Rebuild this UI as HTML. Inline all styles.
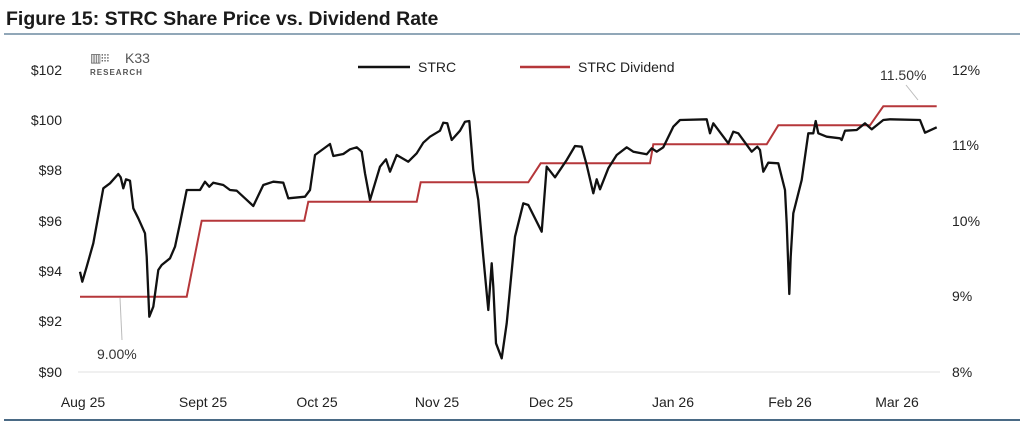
<!DOCTYPE html>
<html><head><meta charset="utf-8"><style>
body{margin:0;background:#fff;width:1024px;height:426px;overflow:hidden;font-family:"Liberation Sans",sans-serif}
</style></head><body>
<svg width="1024" height="426" xmlns="http://www.w3.org/2000/svg" font-family="Liberation Sans, sans-serif">
<text x="6" y="25" font-size="19.5" font-weight="bold" fill="#1a1a1a">Figure 15: STRC Share Price vs. Dividend Rate</text>
<line x1="4" y1="34" x2="1020" y2="34" stroke="#6d8aa0" stroke-width="1.5"/>
<line x1="4" y1="420" x2="1020" y2="420" stroke="#4a6a85" stroke-width="2"/>
<g font-size="14" fill="#222" text-anchor="end">
<text x="62" y="75">$102</text><text x="62" y="125">$100</text><text x="62" y="175">$98</text>
<text x="62" y="226">$96</text><text x="62" y="276">$94</text><text x="62" y="326">$92</text><text x="62" y="377">$90</text>
</g>
<g font-size="14" fill="#222">
<text x="952" y="75">12%</text><text x="952" y="150">11%</text><text x="952" y="226">10%</text>
<text x="952" y="301">9%</text><text x="952" y="377">8%</text>
</g>
<line x1="78" y1="372" x2="940" y2="372" stroke="#e2e2e2" stroke-width="1"/>
<g font-size="14" fill="#222" text-anchor="middle">
<text x="83" y="407">Aug 25</text><text x="203" y="407">Sept 25</text><text x="317" y="407">Oct 25</text>
<text x="437" y="407">Nov 25</text><text x="551" y="407">Dec 25</text><text x="673" y="407">Jan 26</text>
<text x="790" y="407">Feb 26</text><text x="897" y="407">Mar 26</text>
</g>
<text x="90" y="62" font-size="12" fill="#555" letter-spacing="-1">▥⁝⁝⁝</text>
<text x="125" y="63" font-size="14" fill="#555">K33</text>
<text x="90" y="75" font-size="8" font-weight="bold" fill="#555" letter-spacing="1">RESEARCH</text>
<line x1="358" y1="67" x2="410" y2="67" stroke="#111" stroke-width="2.5"/>
<text x="418" y="72" font-size="14" fill="#222">STRC</text>
<line x1="520" y1="67" x2="570" y2="67" stroke="#b5373a" stroke-width="2.5"/>
<text x="578" y="72" font-size="14" fill="#222">STRC Dividend</text>
<line x1="120" y1="298" x2="122" y2="340" stroke="#bbb" stroke-width="1"/>
<text x="97" y="359" font-size="14" fill="#333">9.00%</text>
<line x1="906" y1="85" x2="918" y2="100" stroke="#bbb" stroke-width="1"/>
<text x="880" y="80" font-size="14" fill="#333">11.50%</text>
<polyline id="red" fill="none" stroke="#b5373a" stroke-width="2"/>
<polyline id="blk" fill="none" stroke="#111" stroke-width="2.3" stroke-linejoin="round"/>
</svg>
<script>
var a=[60,545,67,575,80,530,100,460,130,295,150,280,175,252,182,262,190,295,198,268,210,272,220,355,235,385,255,430,260,500,268,680,280,650,295,540,305,525,330,505,345,470,360,400,380,300,420,300,435,275,448,290,460,278,490,285,510,300,530,302,555,325,580,348,610,285,640,275,670,278,685,325,735,320,750,300,765,195,810,162,820,198,850,192,870,178,890,172,905,185,915,250,930,330,945,280,960,230,978,208,990,245,1010,195,1045,215,1070,190,1090,158,1110,140,1140,122,1150,98,1162,100,1175,150,1200,122,1215,95,1228,93,1240,240,1255,330,1270,500,1285,660,1295,520,1300,590,1308,760,1325,805,1340,700,1365,440];
var b=[10,340,25,345,65,425,80,230,105,262,140,210,165,168,185,170,200,225,220,310,230,268,240,298,265,235,290,195,320,172,340,185,380,193,395,175,410,185,430,172,460,110,480,90,560,88,570,130,580,100,625,160,640,125,655,130,695,185,712,170,720,180,730,245,745,218,775,220,795,300,800,400,808,612,812,500,820,370,845,270,865,130,880,130,887,93,895,130,920,140,960,145,965,150,975,122,1010,120,1035,100,1055,118,1090,90,1110,88,1200,90,1215,128,1250,112];
var r1=[60,620,380,620,425,392,733,392,745,335,1070,335,1082,277];
var r2=[0,277,25,277,62,220,390,220,400,163,740,163,775,106,1050,106,1090,49,1250,49];
function c(arr,ox){var p=[];for(var i=0;i<arr.length;i+=2)p.push((ox+arr[i]/3).toFixed(1)+','+(90+arr[i+1]/3).toFixed(1));return p;}
document.getElementById('blk').setAttribute('points',c(a,60).concat(c(b,520)).join(' '));
document.getElementById('red').setAttribute('points',c(r1,60).concat(c(r2,520)).join(' '));
</script>
</body></html>
